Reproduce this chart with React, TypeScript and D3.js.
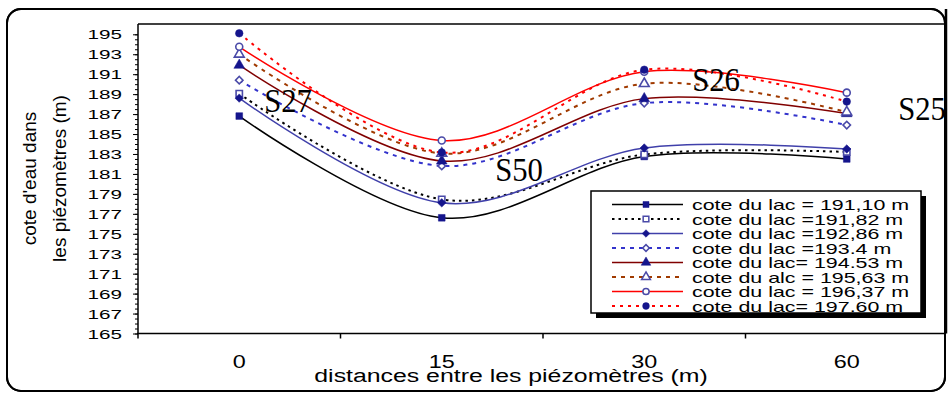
import React, { useEffect, useRef } from "react";
import * as d3 from "d3";

// distances between piezometers (x categories)
const distances = ["0", "15", "30", "60"];
const yTickLabels = [165, 167, 169, 171, 173, 175, 177, 179, 181, 183, 185, 187, 189, 191, 193, 195];

// water level in the piezometers for each lake level
const lac19110 = [186.8, 176.6, 182.75, 182.5];
const lac19182 = [189.05, 178.45, 182.95, 183.2];
const lac19286 = [188.6, 178.1, 183.6, 183.5];
const lac1934 = [190.4, 181.8, 188.1, 185.9];
const lac19453 = [191.9, 182.3, 188.55, 187.05];
const lac19563 = [193.0, 183.05, 190.05, 187.2];
const lac19637 = [193.75, 184.35, 191.25, 189.15];
const lac19760 = [195.1, 183.15, 191.45, 188.25];

const legendLabels = [
  "cote du lac = 191,10 m",
  "cote du lac =191,82 m",
  "cote du lac =192,86 m",
  "cote du lac =193.4 m",
  "cote du lac= 194.53 m",
  "cote du alc = 195,63 m",
  "cote du lac = 196,37 m",
  "cote du lac= 197.60 m",
];

const stations = ["S27", "S50", "S26", "S25"];

const allSeries = [lac19110, lac19182, lac19286, lac1934, lac19453, lac19563, lac19637, lac19760];

// diamond = square turned 45deg (d3's diamond is too tall)
const styles = [
  { stroke: "#000000", dash: null, symbol: d3.symbolSquare, size: 45, filled: true, rot: 0 },
  { stroke: "#000000", dash: "2.5,4", symbol: d3.symbolSquare, size: 40, filled: false, rot: 0 },
  { stroke: "#4040aa", dash: null, symbol: d3.symbolSquare, size: 36, filled: true, rot: 45 },
  { stroke: "#3333cc", dash: "4,5", symbol: d3.symbolSquare, size: 28, filled: false, rot: 45 },
  { stroke: "#800000", dash: null, symbol: d3.symbolTriangle, size: 50, filled: true, rot: 0 },
  { stroke: "#a03a00", dash: "4,5", symbol: d3.symbolTriangle, size: 42, filled: false, rot: 0 },
  { stroke: "#ff0000", dash: null, symbol: d3.symbolCircle, size: 38, filled: false, rot: 0 },
  { stroke: "#ff0000", dash: "3,5", symbol: d3.symbolCircle, size: 45, filled: true, rot: 0 },
];

const SANS = "'Liberation Sans', Arial, sans-serif";
const SERIF = "'Liberation Serif', 'Times New Roman', serif";

export default function App() {
  const ref = useRef<SVGSVGElement>(null);

  useEffect(() => {
    const svg = d3.select(ref.current);
    svg.selectAll("*").remove();

    const left = 138;
    const top = 24;
    const bottom = 333.5;
    const right = 946;

    // outer rounded frame
    svg
      .append("rect")
      .attr("x", 7)
      .attr("y", 9)
      .attr("width", 938)
      .attr("height", 382)
      .attr("rx", 14)
      .attr("fill", "#fff")
      .attr("stroke", "#000")
      .attr("stroke-width", 2);

    const x = d3.scaleBand().domain(distances).range([left, 948]).paddingInner(0).paddingOuter(0);
    const y = d3.scaleLinear().domain([165, 195]).range([bottom, 34.3]);
    const cx = (i: number) => (x(distances[i]) as number) + x.bandwidth() / 2;

    // plot frame top / right
    svg.append("line").attr("x1", left).attr("x2", right).attr("y1", top).attr("y2", top)
      .attr("stroke", "#000").attr("stroke-width", 1.5);
    svg.append("line").attr("x1", right).attr("x2", right).attr("y1", 9).attr("y2", bottom)
      .attr("stroke", "#000").attr("stroke-width", 2.5);

    // y axis minor ticks
    svg
      .append("g")
      .attr("transform", `translate(${left},0)`)
      .call(d3.axisLeft(y).tickValues(d3.range(165, 195.01, 0.5)).tickSize(3).tickFormat(() => ""))
      .call((g) => g.select(".domain").remove());

    // y axis major ticks + labels
    const yAxis = svg
      .append("g")
      .attr("transform", `translate(${left},0)`)
      .call(d3.axisLeft(y).tickValues(yTickLabels).tickSize(5).tickSizeOuter(0).tickFormat(d3.format("d")));
    yAxis.select(".domain").attr("d", `M0,${top}V${bottom}`).attr("stroke-width", 1.5);
    yAxis
      .selectAll("text")
      .attr("x", null)
      .attr("dy", null)
      .attr("transform", "translate(-16,4.6) scale(1.59,1)")
      .attr("font-size", 13)
      .attr("font-family", SANS)
      .attr("fill", "#000");

    // x axis
    svg.append("line").attr("x1", left - 1).attr("x2", right).attr("y1", bottom).attr("y2", bottom)
      .attr("stroke", "#000").attr("stroke-width", 1.5);
    svg
      .append("g")
      .selectAll("line")
      .data(distances)
      .enter()
      .append("line")
      .attr("x1", (d) => x(d) as number)
      .attr("x2", (d) => x(d) as number)
      .attr("y1", bottom)
      .attr("y2", bottom + 5)
      .attr("stroke", "#000")
      .attr("stroke-width", 1.5);
    svg
      .append("g")
      .selectAll("text")
      .data(distances)
      .enter()
      .append("text")
      .attr("transform", (d, i) => `translate(${cx(i)},367.5) scale(1.3,1)`)
      .attr("text-anchor", "middle")
      .attr("font-size", 18)
      .attr("font-family", SANS)
      .text((d) => d);

    svg
      .append("text")
      .attr("transform", "translate(511,382) scale(1.38,1)")
      .attr("text-anchor", "middle")
      .attr("font-size", 18)
      .attr("font-family", SANS)
      .text("distances entre les piézomètres (m)");

    // y title (two lines)
    const yTitle = svg
      .append("text")
      .attr("transform", "translate(36,178.5) rotate(-90)")
      .attr("text-anchor", "middle")
      .attr("font-size", 19)
      .attr("font-family", SANS);
    yTitle.append("tspan").attr("x", 0).attr("y", 0).text("cote d'eau dans");
    yTitle.append("tspan").attr("x", 0).attr("y", 30).text("les piézomètres (m)");

    // series lines
    const line = d3
      .line<number>()
      .x((d, i) => cx(i))
      .y((d) => y(d))
      .curve(d3.curveCardinal.tension(0));

    const plot = svg.append("g");
    allSeries.forEach((values, k) => {
      const st = styles[k];
      plot
        .append("path")
        .datum(values)
        .attr("d", line)
        .attr("fill", "none")
        .attr("stroke", st.stroke)
        .attr("stroke-width", st.dash ? 2 : 1.5)
        .attr("stroke-dasharray", st.dash);
    });

    // markers
    const markerColor = (k: number) => (styles[k].filled ? "#15158c" : "#4a4aa8");
    allSeries.forEach((values, k) => {
      const st = styles[k];
      plot
        .selectAll(null)
        .data(values)
        .enter()
        .append("path")
        .attr("transform", (d, i) => `translate(${cx(i)},${y(d)}) rotate(${st.rot})`)
        .attr("d", d3.symbol().type(st.symbol).size(st.size)())
        .attr("fill", st.filled ? markerColor(k) : "#fff")
        .attr("stroke", markerColor(k))
        .attr("stroke-width", st.filled ? 0.5 : 1.6);
    });

    // station labels
    const stationPos = [
      [288, 112],
      [519, 181],
      [716, 91],
      [922, 120],
    ];
    svg
      .append("g")
      .selectAll("text")
      .data(stations)
      .enter()
      .append("text")
      .attr("transform", (d, i) => `translate(${stationPos[i][0]},${stationPos[i][1]}) scale(0.93,1)`)
      .attr("text-anchor", "middle")
      .attr("font-size", 33)
      .attr("font-family", SERIF)
      .text((d) => d);

    // legend
    const lx = 591;
    const ly = 191;
    const lw = 330;
    const lh = 122;
    svg.append("rect").attr("x", lx + 5).attr("y", ly + 5).attr("width", lw).attr("height", lh).attr("fill", "#000");
    svg.append("rect").attr("x", lx).attr("y", ly).attr("width", lw).attr("height", lh)
      .attr("fill", "#fff").attr("stroke", "#000").attr("stroke-width", 1.5);
    svg.append("clipPath").attr("id", "legclip").append("rect")
      .attr("x", lx + 1).attr("y", ly + 1).attr("width", lw - 2).attr("height", lh - 2);

    const leg = svg.append("g").attr("clip-path", "url(#legclip)");
    legendLabels.forEach((label, k) => {
      const st = styles[k];
      const base = 210 + k * 14.5;
      const row = leg.append("g");
      row
        .append("line")
        .attr("x1", 612)
        .attr("x2", 683)
        .attr("y1", base - 5.5)
        .attr("y2", base - 5.5)
        .attr("stroke", st.stroke)
        .attr("stroke-width", st.dash ? 2 : 1.5)
        .attr("stroke-dasharray", st.dash);
      row
        .append("path")
        .attr("transform", `translate(646,${base - 5.5}) rotate(${st.rot})`)
        .attr("d", d3.symbol().type(st.symbol).size(st.size * 0.8)())
        .attr("fill", st.filled ? markerColor(k) : "#fff")
        .attr("stroke", markerColor(k))
        .attr("stroke-width", st.filled ? 0.5 : 1.5);
      row
        .append("text")
        .attr("transform", `translate(692,${base}) scale(1.53,1)`)
        .attr("font-size", 14)
        .attr("font-family", SANS)
        .text(label);
    });

    // outer frame border drawn again on top
    svg
      .append("rect")
      .attr("x", 7)
      .attr("y", 9)
      .attr("width", 938)
      .attr("height", 382)
      .attr("rx", 14)
      .attr("fill", "none")
      .attr("stroke", "#000")
      .attr("stroke-width", 2);
  }, []);

  return (
    <svg
      ref={ref}
      width={949}
      height={397}
      style={{ position: "absolute", left: 0, top: 0, background: "#fff" }}
    />
  );
}
